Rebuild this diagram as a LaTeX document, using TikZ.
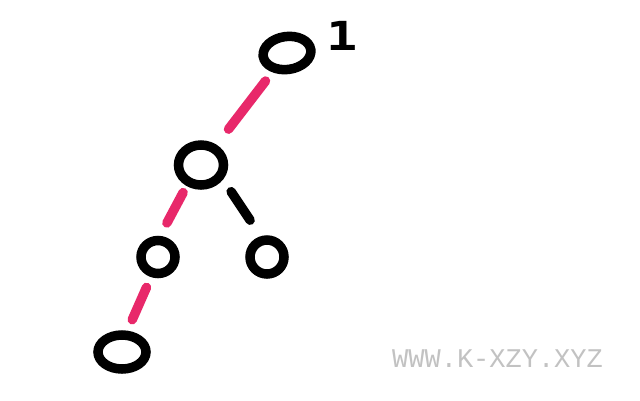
\documentclass[tikz,border=0pt]{standalone}
\usepackage{fontspec}
\usetikzlibrary{shapes.geometric,calc}
\newfontfamily\wmfont{Liberation Mono}
\newfontfamily\numfont{DejaVu Sans Mono}
\definecolor{edgepink}{HTML}{E8286A}
\definecolor{wmgray}{HTML}{C2C2C2}
\tikzset{
  treenode/.style={ellipse,draw=black,line width=9.5pt,inner sep=0pt,outer sep=0pt},
  pinkedge/.style={draw=edgepink,line width=9.5pt,line cap=round},
  blackedge/.style={draw=black,line width=9.5pt,line cap=round},
}
\begin{document}
\begin{tikzpicture}[x=1pt,y=-1pt]
\useasboundingbox[fill=white] (0,0) rectangle (640,400);
\node[treenode,minimum width=48pt,minimum height=33pt,rotate=8] (n1) at (287,53) {};
\node[treenode,minimum width=45pt,minimum height=40pt] (n2) at (201,165) {};
\node[treenode,minimum width=34pt,minimum height=33pt] (n3) at (158,257) {};
\node[treenode,minimum width=34pt,minimum height=34pt] (n4) at (267,257) {};
\node[treenode,minimum width=48pt,minimum height=34pt] (n5) at (122,352) {};
\node[anchor=base west,inner sep=0pt,xscale=1.3,font=\numfont\bfseries\fontsize{40}{40}\selectfont] (lab) at (326,50) {1};
\draw[pinkedge] ($(n1)!0.25!(n2)$) -- ($(n1)!0.68!(n2)$);
\draw[pinkedge] ($(n2)!0.3!(n3)+(-5,0)$) -- ($(n2)!0.63!(n3)+(-7,0)$);
\draw[pinkedge] ($(n3)!0.32!(n5)$) -- ($(n3)!0.66!(n5)+(-2,0)$);
\draw[blackedge] ($(n2)!0.29!(n4)+(11,0)$) -- ($(n2)!0.6!(n4)+(9.5,0)$);
\node[anchor=base west,inner sep=0pt,text=wmgray,font=\wmfont\fontsize{27}{27}\selectfont] (wm) at (392,367) {WWW.K-XZY.XYZ};
\end{tikzpicture}
\end{document}
